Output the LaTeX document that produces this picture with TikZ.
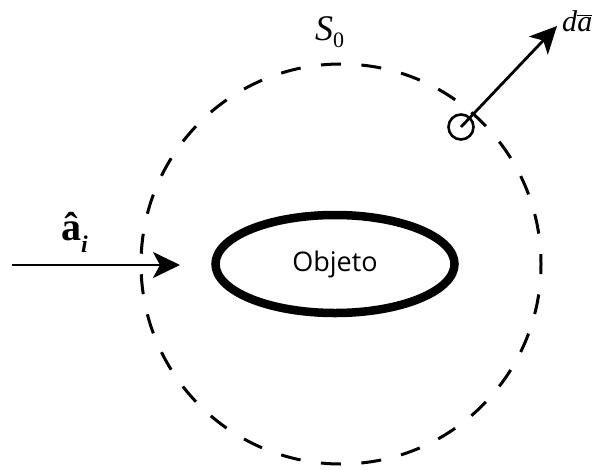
\documentclass[tikz,border=0pt]{standalone}
\usepackage{fontspec}
\newfontfamily\objfont{Open Sans}
\setmainfont{Liberation Serif}
\usetikzlibrary{arrows.meta,shapes.geometric}
\begin{document}
\begin{tikzpicture}[x=1pt,y=-1pt,
  dashcircle/.style={draw,dash pattern=on 20pt off 20.54pt,dash phase=30.27pt,line width=3pt},
  vecarrow/.style={draw,line width=2.8pt,-{Stealth[length=27pt,width=26pt,inset=7pt]}},
  lbl/.style={inner sep=0pt}]
\useasboundingbox (0,0) rectangle (602,469);
\coordinate (s0left) at (141,264);
\draw[dashcircle] (s0left) arc[start angle=180, end angle=-180, radius=200];
\node[draw,ellipse,line width=8.5pt,minimum width=239pt,minimum height=98pt,inner sep=0pt,font=\objfont\fontsize{27}{32}\selectfont] (obj) at (335,264) {Objeto};
\coordinate (src) at (12,265);
\coordinate (tip) at (180,265);
\draw[vecarrow] (src) -- (tip);
\node[lbl,font=\fontsize{40}{46}\selectfont\bfseries,anchor=base west] (ai) at (61,240) {â\raisebox{-0.3em}{\fontsize{24}{28}\selectfont\bfseries\itshape i}};
\node[draw,circle,line width=2.6pt,minimum size=25pt,inner sep=0pt] (dot) at (461,127) {};
\coordinate (datip) at (557,26);
\draw[vecarrow] (dot.center) -- (datip);
\node[lbl,font=\fontsize{30}{36}\selectfont,anchor=base west] (da) at (562,31) {\textit{d}$\overline{\textit{a}}$};
\node[lbl,font=\fontsize{36}{42}\selectfont,anchor=base west] (s0) at (315,40) {\textit{S}\raisebox{-0.22em}{\fontsize{22}{26}\selectfont 0}};
\end{tikzpicture}
\end{document}
